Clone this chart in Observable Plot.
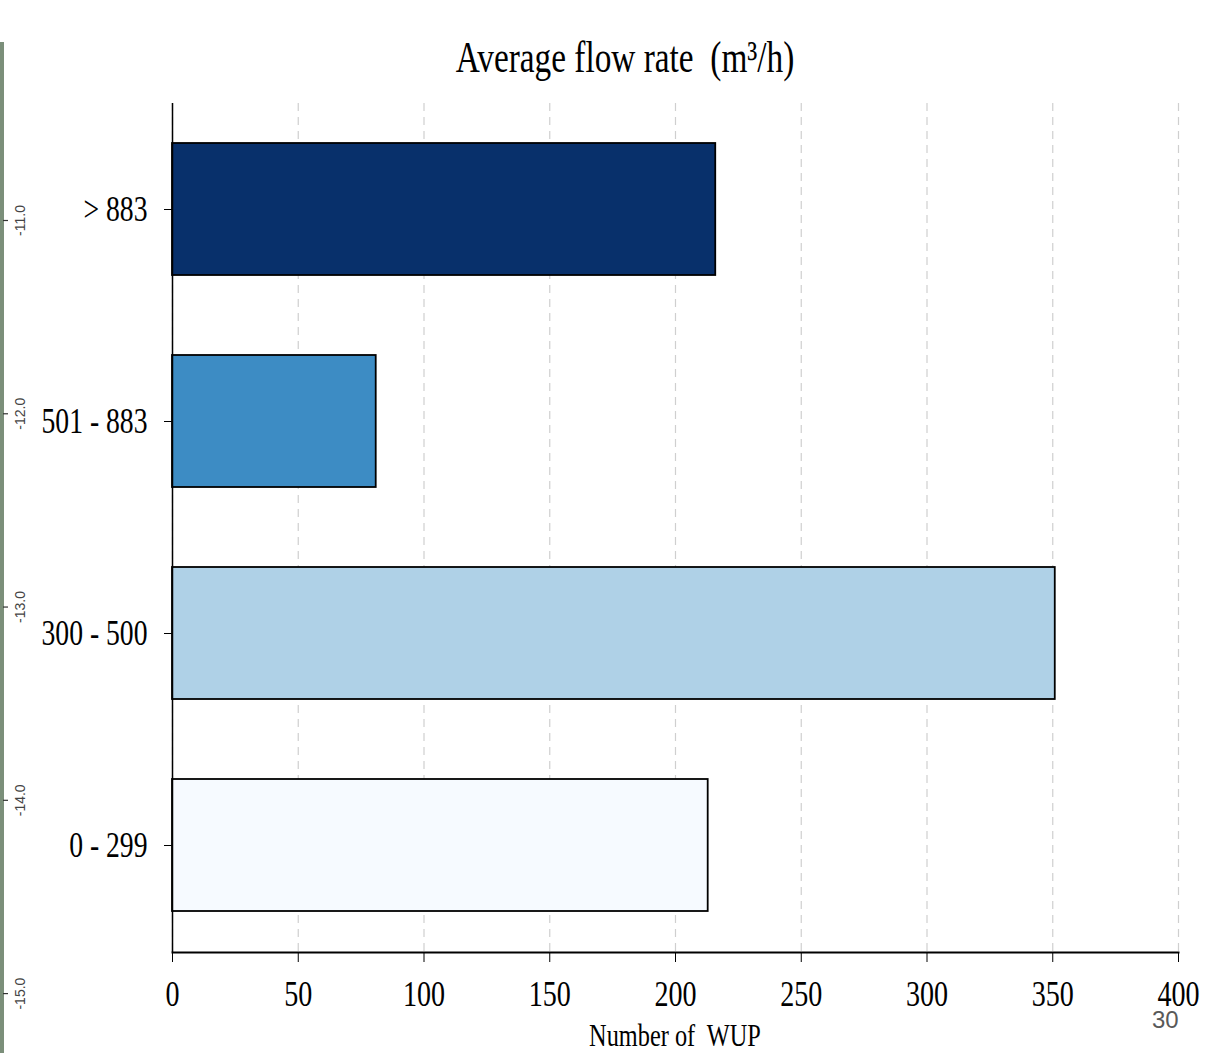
<!DOCTYPE html>
<html>
<head>
<meta charset="utf-8">
<script src="https://cdn.jsdelivr.net/npm/d3@7"></script>
<script src="https://cdn.jsdelivr.net/npm/@observablehq/plot@0.6"></script>
<style>
  body { margin: 0; background: #fff; }
  #wrap { position: relative; width: 1209px; height: 1053px; overflow: hidden; background: #fff; }
  #wrap > * { position: absolute; }
  #title { left: 625px; top: 35px; font: 45px/1 "Liberation Serif", "Times New Roman", serif; color: #000; white-space: pre; transform: translateX(-50%) scaleX(0.74); }
  #xlabel { left: 675px; top: 1019px; font: 32px/1 "Liberation Serif", "Times New Roman", serif; color: #000; white-space: pre; transform: translateX(-50%) scaleX(0.76); }
  #slide { left: 1152px; top: 1008px; font: 24px/1 "Liberation Sans", Arial, sans-serif; color: #595959; }
  #strip { left: 0; top: 42px; width: 4px; height: 1011px; background: #7b8f7a; }
  #chart { left: 0; top: 0; }
  #side { left: 0; top: 42px; }
</style>
</head>
<body>
<div id="wrap">
  <div id="strip"></div>
  <div id="chart"></div>
  <div id="side"></div>
  <div id="title">Average flow rate  (m³/h)</div>
  <div id="xlabel">Number of  WUP</div>
  <div id="slide">30</div>
</div>
<script>
const categories = ["> 883", "501 - 883", "300 - 500", "0 - 299"];
const counts = [216, 81, 351, 213];
const colors = ["#08306b", "#3d8cc4", "#afd1e7", "#f6faff"];
const xTicks = [0, 50, 100, 150, 200, 250, 300, 350, 400];
const sideTicks = [-11, -12, -13, -14, -15];

const data = categories.map((c, i) => ({range: c, count: counts[i], color: colors[i]}));

const serif = "'Liberation Serif', 'Times New Roman', serif";

const chart = Plot.plot({
  width: 1209,
  height: 1053,
  marginLeft: 172,
  marginRight: 31,
  marginTop: 103,
  marginBottom: 101,
  style: {fontFamily: serif, background: "transparent", color: "#000"},
  x: {domain: [0, 400]},
  y: {domain: categories, paddingInner: 0.377, paddingOuter: 0.19},
  marks: [
    Plot.gridX(xTicks, {stroke: "#cfcfcf", strokeOpacity: 1, strokeWidth: 1.2, strokeDasharray: "8,6"}),
    Plot.barX(data, {y: "range", x: "count", fill: "color", stroke: "#000", strokeWidth: 1.8}),
    Plot.ruleX([0], {stroke: "#000", strokeWidth: 1.5}),
    Plot.frame({anchor: "bottom", stroke: "#000", strokeWidth: 2}),
    Plot.axisX({ticks: xTicks, tickSize: 10, tickPadding: 18, fontSize: 36, label: null, stroke: "#000", fill: "#000"}),
    Plot.axisY({tickSize: 8, tickPadding: 17, fontSize: 35, label: null, stroke: "#000", fill: "#000"})
  ]
});
document.getElementById("chart").append(chart);

function squash(root, sel, f) {
  root.querySelectorAll(sel).forEach(t => {
    const L = t.getComputedTextLength();
    if (L > 0) {
      t.setAttribute("textLength", L * f);
      t.setAttribute("lengthAdjust", "spacingAndGlyphs");
    }
  });
}
squash(chart, 'g[aria-label="x-axis tick label"] text', 0.78);
squash(chart, 'g[aria-label="y-axis tick label"] text', 0.79);

const side = Plot.plot({
  width: 40,
  height: 1011,
  marginLeft: 0,
  marginRight: 0,
  marginTop: 0,
  marginBottom: 0,
  style: {background: "transparent"},
  x: {domain: [0, 40], axis: null},
  y: {domain: [-15.31, -10.079], axis: null},
  marks: [
    Plot.ruleY(sideTicks, {y: d => d, x1: 3, x2: 8, stroke: "#333", strokeWidth: 1.2}),
    Plot.text(sideTicks, {x: 20, y: d => d, text: d => d.toFixed(1), rotate: -90, fontSize: 14, fill: "#444", fontFamily: "'Liberation Sans Narrow', 'Liberation Sans', Arial, sans-serif"})
  ]
});
document.getElementById("side").append(side);
</script>
</body>
</html>
